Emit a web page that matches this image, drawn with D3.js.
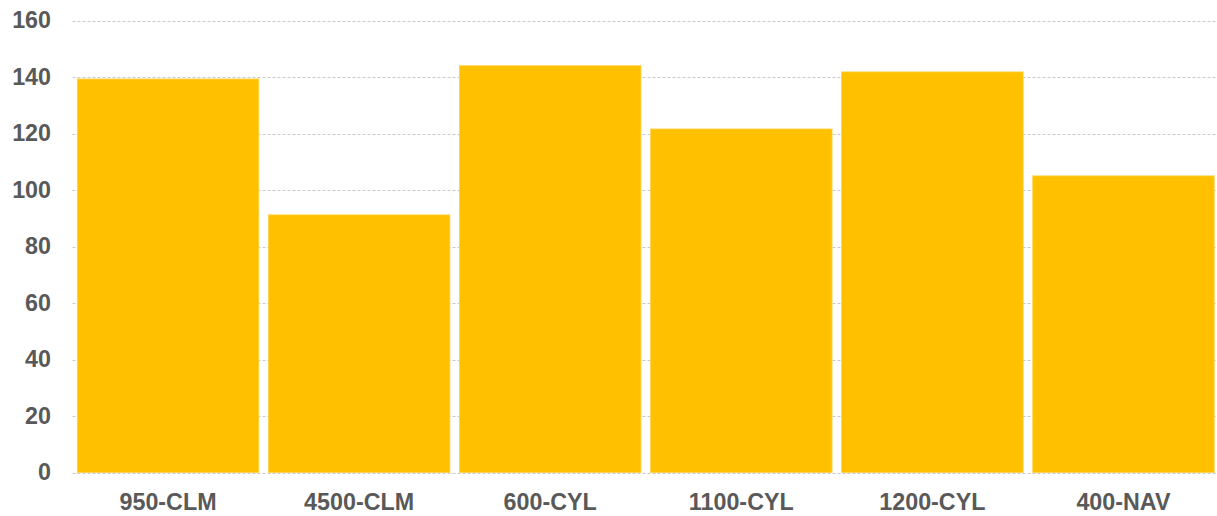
<!DOCTYPE html>
<html><head><meta charset="utf-8">
<script src="https://cdn.jsdelivr.net/npm/d3@7"></script>
<style>body{margin:0;background:#fff}svg{display:block}</style>
</head><body>
<svg id="c" width="1217" height="516"></svg>
<script>
const categories = ["950-CLM","4500-CLM","600-CYL","1100-CYL","1200-CYL","400-NAV"];
const values = [139.3, 91.2, 144.0, 121.6, 141.8, 105.0];
const yTicks = [0,20,40,60,80,100,120,140,160];

(function(){
const svg = d3.select("#c");
const mLeft = 72.5, mRight = 1219, mTop = 20.5, mBottom = 472.5;
const x = d3.scaleBand().domain(categories).range([mLeft, mRight]).paddingInner(0.05).paddingOuter(0.025);
const y = d3.scaleLinear().domain([0,160]).range([mBottom, mTop]);

svg.append("g").selectAll("line").data(yTicks).join("line")
  .attr("x1", mLeft).attr("x2", 1217)
  .attr("y1", d => Math.round(y(d)) + 0.5).attr("y2", d => Math.round(y(d)) + 0.5)
  .attr("stroke", "#c9c9c9").attr("stroke-width", 1).attr("stroke-dasharray", "3,2");

svg.append("g").selectAll("rect").data(values).join("rect")
  .attr("x", (d,i) => x(categories[i]))
  .attr("width", x.bandwidth())
  .attr("y", d => y(d))
  .attr("height", d => y(0) - y(d))
  .attr("fill", "#FFC000")
  .attr("stroke", "#FFD24A").attr("stroke-width", 0.8);

const font = "'Liberation Sans', Arial, sans-serif";
svg.append("g").selectAll("text").data(yTicks).join("text")
  .attr("x", 51).attr("y", d => y(d)).attr("dy", "0.34em")
  .attr("text-anchor", "end")
  .attr("font-family", font).attr("font-weight", "bold").attr("font-size", 23.3)
  .attr("fill", "#595959").text(d => d);

svg.append("g").selectAll("text").data(categories).join("text")
  .attr("x", d => x(d) + x.bandwidth()/2).attr("y", 510)
  .attr("text-anchor", "middle")
  .attr("font-family", font).attr("font-weight", "bold").attr("font-size", 23.3)
  .attr("fill", "#595959").text(d => d);
})();
</script>
</body></html>
